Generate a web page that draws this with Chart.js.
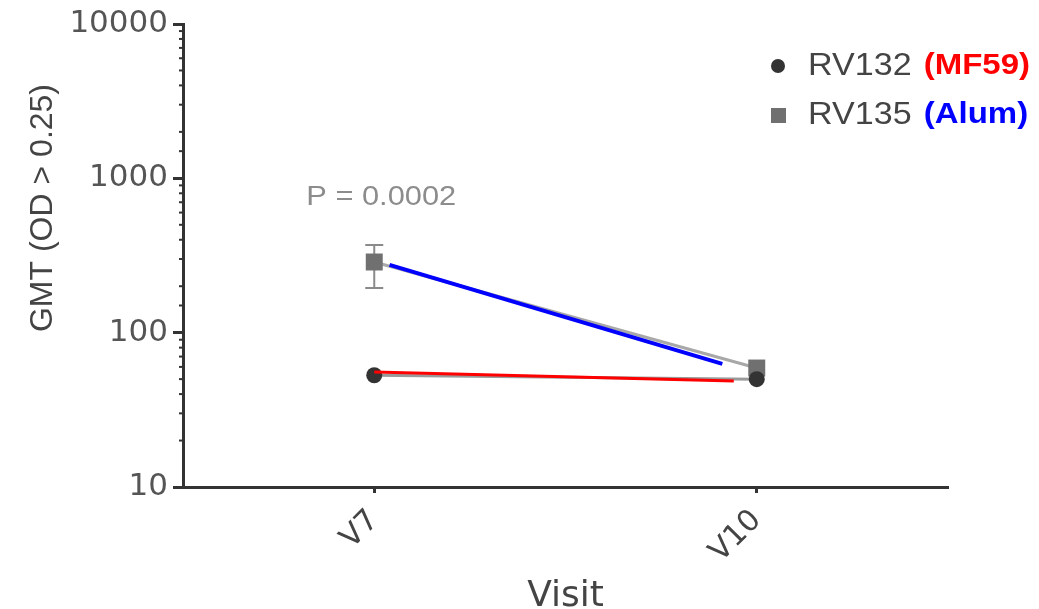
<!DOCTYPE html>
<html lang="en">
<head>
<meta charset="UTF-8">
<title>GMT by visit</title>
<script src="https://cdn.jsdelivr.net/npm/chart.js"></script>
<style>
  body { margin: 0; background: #fff; }
  #wrap { width: 1039px; height: 609px; }
</style>
</head>
<body>
<div id="wrap"><canvas id="gmtChart" width="1039" height="609"></canvas></div>
<script>
const visits = ['V7', 'V10'];
const yTickLabels = [10, 100, 1000, 10000];

const rv132 = [53, 50];
const rv135 = [287, 59];
const rv135ErrHigh = [370, null];
const rv135ErrLow = [195, null];

// coloured strokes that were drawn over the gray lines
const mf59TrendX = [0, 0.94];
const mf59TrendY = [55.6, 48.6];
const alumTrendX = [0.04, 0.91];
const alumTrendY = [275, 62.7];

const pValueText = 'P = 0.0002';

const ARIAL = '"Liberation Sans", Arial, sans-serif';
const WIDE = '"DejaVu Sans", Verdana, sans-serif';
Chart.defaults.font.family = WIDE;

const isMajor = v => yTickLabels.includes(v);

// the source picture is slightly stretched sideways, so horizontal text gets a 1.1 x-scale
function wideText(ctx, text, x, y, align) {
    ctx.save();
    ctx.translate(x, y);
    ctx.scale(1.1, 1);
    ctx.textAlign = align || 'left';
    ctx.fillText(text, 0, 0);
    ctx.restore();
    return ctx.measureText(text).width * 1.1;
}

// error bars for RV135
const errorBars = {
    id: 'errorBars',
    beforeDatasetsDraw(chart) {
        const {ctx, scales: {x, y}} = chart;
        ctx.save();
        ctx.strokeStyle = '#8a8a8a';
        ctx.lineWidth = 2;
        rv135ErrHigh.forEach((hi, i) => {
            if (hi == null) return;
            const px = x.getPixelForValue(i);
            const top = y.getPixelForValue(hi);
            const bot = y.getPixelForValue(rv135ErrLow[i]);
            ctx.beginPath();
            ctx.moveTo(px, top); ctx.lineTo(px, bot);
            ctx.moveTo(px - 9, top); ctx.lineTo(px + 9, top);
            ctx.moveTo(px - 9, bot); ctx.lineTo(px + 9, bot);
            ctx.stroke();
        });
        ctx.restore();
    }
};

// short minor ticks, y title, p value and legend
const extras = {
    id: 'extras',
    afterDraw(chart) {
        const {ctx, scales: {x, y}, chartArea} = chart;
        ctx.save();

        ctx.strokeStyle = '#333';
        ctx.lineWidth = 2;
        y.ticks.forEach(t => {
            if (isMajor(t.value)) return;
            const py = y.getPixelForValue(t.value);
            ctx.beginPath();
            ctx.moveTo(chartArea.left - 4, py);
            ctx.lineTo(chartArea.left, py);
            ctx.stroke();
        });

        ctx.fillStyle = '#444';
        ctx.font = '32px ' + ARIAL;
        ctx.textAlign = 'center';
        ctx.textBaseline = 'middle';
        ctx.save();
        ctx.translate(43, 208);
        ctx.rotate(-Math.PI / 2);
        ctx.fillText('GMT (OD > 0.25)', 0, 0);
        ctx.restore();

        ctx.fillStyle = '#8c8c8c';
        ctx.font = '28px ' + ARIAL;
        wideText(ctx, pValueText, x.getPixelForValue(0) + 7, y.getPixelForValue(750), 'center');

        // legend
        const items = [
            {label: chart.data.datasets[2].label, extra: '(MF59)', extraColor: '#ff0000', y: 66},
            {label: chart.data.datasets[3].label, extra: '(Alum)', extraColor: '#0000ff', y: 115}
        ];
        items.forEach((it, i) => {
            if (i === 0) {
                ctx.fillStyle = '#333';
                ctx.beginPath();
                ctx.arc(778, it.y, 7, 0, Math.PI * 2);
                ctx.fill();
            } else {
                ctx.fillStyle = '#707070';
                ctx.fillRect(771, it.y - 7, 15, 15);
            }
            ctx.font = '31px ' + ARIAL;
            ctx.fillStyle = '#444';
            const w = wideText(ctx, it.label, 808, it.y);
            ctx.font = 'bold 30px ' + ARIAL;
            ctx.fillStyle = it.extraColor;
            wideText(ctx, it.extra, 808 + w + 12, it.y);
        });

        ctx.restore();
    }
};

const toPoints = (xs, ys) => xs.map((v, i) => ({x: v, y: ys[i]}));

new Chart(document.getElementById('gmtChart'), {
    type: 'line',
    data: {
        datasets: [
            {
                label: 'MF59 trend',
                data: toPoints(mf59TrendX, mf59TrendY),
                borderColor: '#ff0000',
                borderWidth: 3,
                pointRadius: 0
            },
            {
                label: 'Alum trend',
                data: toPoints(alumTrendX, alumTrendY),
                borderColor: '#0000ff',
                borderWidth: 4,
                pointRadius: 0
            },
            {
                label: 'RV132',
                data: rv132.map((v, i) => ({x: i, y: v})),
                borderColor: '#9a9a9a',
                borderWidth: 3,
                pointStyle: 'circle',
                pointRadius: 8,
                pointBackgroundColor: '#333',
                pointBorderWidth: 0
            },
            {
                label: 'RV135',
                data: rv135.map((v, i) => ({x: i, y: v})),
                borderColor: '#a8a8a8',
                borderWidth: 3,
                pointStyle: 'rect',
                pointRadius: 12,
                pointBackgroundColor: '#707070',
                pointBorderWidth: 0
            }
        ]
    },
    options: {
        responsive: false,
        animation: false,
        layout: { padding: {top: 24, right: 91, left: 0, bottom: 0} },
        plugins: {
            legend: { display: false },
            tooltip: { enabled: false }
        },
        scales: {
            x: {
                type: 'linear',
                min: -0.5,
                max: 1.5,
                afterBuildTicks: s => { s.ticks = visits.map((v, i) => ({value: i})); },
                afterFit: s => { s.height = 122; },
                grid: {
                    drawOnChartArea: false,
                    tickLength: 6,
                    tickWidth: 3,
                    tickColor: '#333'
                },
                border: { color: '#333', width: 3 },
                ticks: {
                    callback: v => visits[v],
                    font: {size: 30},
                    color: '#444',
                    minRotation: 45,
                    maxRotation: 45,
                    padding: 10
                },
                title: {
                    display: true,
                    text: 'Visit',
                    font: {size: 36},
                    color: '#444',
                    padding: {top: 0, bottom: -9}
                }
            },
            y: {
                type: 'logarithmic',
                min: 10,
                max: 10000,
                afterFit: s => { s.width = 183; },
                grid: {
                    drawOnChartArea: false,
                    tickLength: 10,
                    tickWidth: 3,
                    tickColor: c => isMajor(c.tick.value) ? '#333' : 'rgba(0,0,0,0)'
                },
                border: { color: '#333', width: 3 },
                ticks: {
                    autoSkip: false,
                    callback: v => isMajor(v) ? String(v) : '',
                    font: {size: 31},
                    color: '#555',
                    padding: 5
                }
            }
        }
    },
    plugins: [errorBars, extras]
});
</script>
</body>
</html>
